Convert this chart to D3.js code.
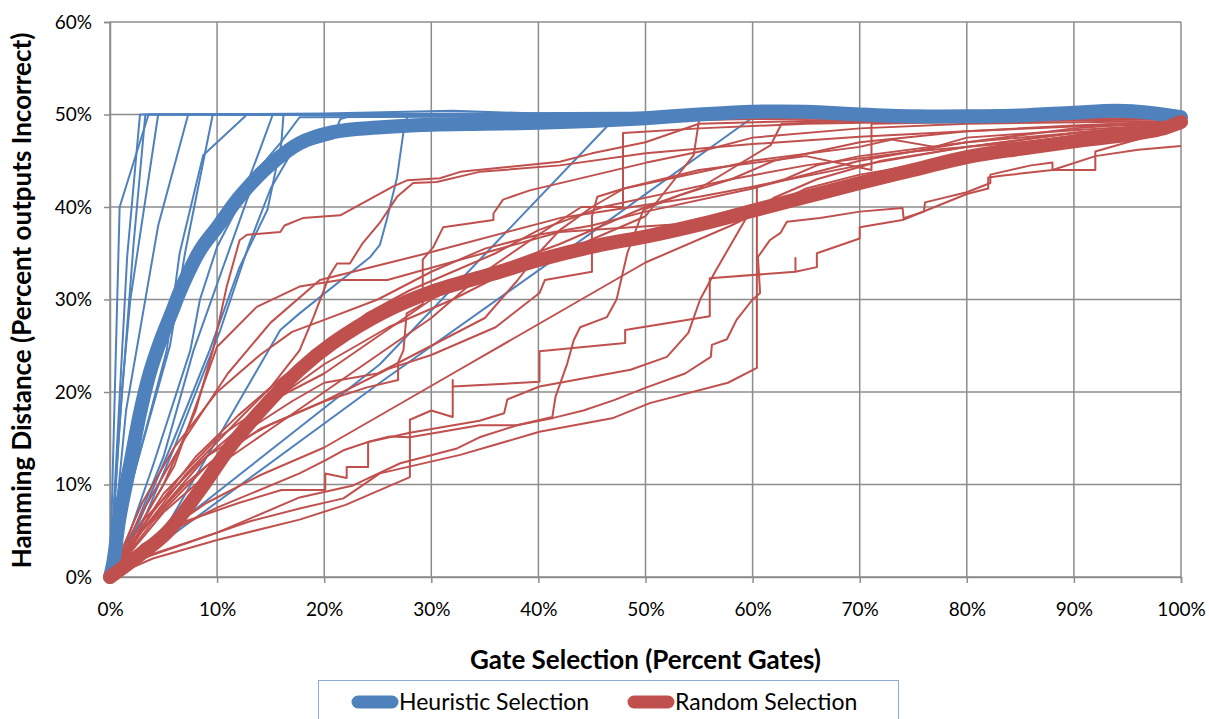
<!DOCTYPE html>
<html>
<head>
<meta charset="utf-8">
<script src="https://cdn.jsdelivr.net/npm/d3@7"></script>
<style>
  body { margin: 0; background: #fff; }
  text { font-family: Lato, "Open Sans", sans-serif; fill: #000; }
</style>
</head>
<body>
<div id="chart"></div>
<script>
const xTicks = [0, 10, 20, 30, 40, 50, 60, 70, 80, 90, 100];
const yTicks = [0, 10, 20, 30, 40, 50, 60];

// averages (smoothed in the original)
const heuristicAverage = [[0,0],[0.3,1.5],[0.9,6.5],[1.9,12.3],[2.8,17.7],[3.7,22],[4.7,25.5],[5.9,29],[6.5,30.8],[8.4,35.3],[10,37.8],[12.1,41.1],[14.7,44.3],[17.7,46.9],[20.8,48.1],[25,48.6],[30,48.9],[35,49],[40,49.1],[45,49.3],[50,49.6],[55,50],[60,50.3],[65,50.3],[70,50],[75,49.8],[80,49.8],[85,49.9],[90,50.2],[94,50.4],[97,50.2],[100,49.7]];
const randomAverage = [[0,0],[2.1,1.8],[5.3,4.8],[8.4,9.4],[11.5,14.5],[14.7,18.8],[17.7,22.4],[20.8,25.3],[25.5,28.6],[30.2,30.9],[36.4,33],[40.1,34.3],[45.8,35.9],[50,36.8],[55,38.1],[60,39.6],[65,41.1],[70,42.6],[75,44],[80,45.4],[85,46.3],[90,47.1],[95,47.8],[98,48.4],[100,49.2]];

// individual runs
const heuristicRuns = [
  [[0,0],[0.9,40],[3.6,50],[20,50.1],[32,50.4],[40,50.1],[100,50]],
  [[0,0],[1.6,34.6],[2.8,50],[100,50]],
  [[0,0],[0.8,15],[2.2,36],[3.3,50],[100,50]],
  [[0,0],[1.1,20],[1.9,30],[4.5,50],[100,50]],
  [[0,0],[1.5,18],[4.5,38],[7.3,50],[100,50]],
  [[0,0],[2.2,11],[5.6,25],[7,35],[8.9,46],[9.6,50],[100,50]],
  [[0,0],[2,10],[5.3,24.5],[6.5,35],[8.7,45.6],[12.8,50],[100,50]],
  [[0,0],[1,2],[4,12],[7.5,24.5],[8.4,30],[10,35.7],[12.1,40.4],[14,46.2],[15.2,50],[48,50.2],[100,50]],
  [[0,0],[2,4],[6,15],[9.3,24.5],[12.1,33.5],[14.7,39.7],[16,46.9],[16.2,50],[100,50]],
  [[0,0],[1.5,3],[5,13],[7.8,24.5],[12.8,40.8],[14,44.3],[15.9,46.9],[17.7,49.7],[100,50]],
  [[0,0],[2,3],[6,14],[10.3,26.7],[13,36],[15,42],[17.1,46.2],[20.8,47.4],[21.5,49.5],[23,50],[100,50]],
  [[0,0],[2,1.5],[4.4,3.7],[15.9,26.7],[17.7,28.5],[24.3,34.6],[25.2,35.9],[25.9,38.9],[26.8,43.2],[27.4,48.1],[27.8,50],[100,50]],
  [[0,0],[2,1.5],[3.8,3.5],[25.2,23],[46.4,48.7],[47.5,50],[100,50]],
  [[0,0],[2,1],[4,3],[25.2,21],[45.8,37.9],[59.9,49.6],[61,50],[100,50]]
];

const randomRuns = [
  [[0,0],[2,4],[5,10],[8,18],[9.6,24.5],[10.9,31.4],[12.1,36.4],[12.8,37],[15.9,37.3],[16.3,38],[18,38.8],[21.5,39.1],[26.4,42.2],[27.8,42.9],[30.8,43.1],[32.7,43.8],[42,44.9],[45,45.8],[50,47],[55,49],[65,49.3],[80,49.4],[100,49.5]],
  [[0,0],[3,5],[7,11],[12,17],[15,20.5],[17.7,24.5],[19,28.1],[20.5,32.6],[21.2,33.9],[22.4,33.9],[23.6,36.1],[25.2,38.3],[26.8,41.1],[28.3,42.6],[30.5,42.7],[34.5,43.8],[42,44.5],[50,45.8],[60,46.8],[70,47.6],[80,48.2],[90,48.7],[100,49]],
  [[0,0],[3,7],[7,15],[11,22],[15,27.5],[19.6,32.1],[29.6,35],[42,38.8],[55,41.1],[60,42.2],[70,44.5],[80,46.5],[90,48],[100,49]],
  [[0,0],[3,6],[6,12],[10,24.9],[13.7,29.2],[17.7,31.4],[21.5,32.1],[25.9,32.1],[42,37.3],[55.1,38.3],[60,40],[70,43],[80,45.5],[90,47.2],[100,48.6]],
  [[0,0],[3,2],[8,4],[13,6],[17.7,7.4],[21.8,8.5],[25.2,11.2],[32.7,13.2],[40.1,15.7],[47,17.2],[50.4,18.8],[57.7,21],[60.4,22.6],[60.4,42.2],[63,43],[66,44.5],[70,45.5],[80,47],[90,48],[100,49]],
  [[0,0],[3,5],[7,10],[11,14],[15,16.5],[20,19],[24,20.5],[26.9,21.3],[26.9,23.2],[27.4,24.5],[27.7,28.5],[29.2,29.5],[29.2,34.3],[30.2,35.7],[31.1,37.8],[35.8,38.6],[35.8,39.3],[36.7,40.8],[39.2,41.8],[50.1,44.8],[55.1,46],[60,47.5],[70,48.5],[80,49],[100,49.3]],
  [[0,0],[3,3.5],[7,6],[12,8],[16,9.4],[20.1,9.4],[20.1,11.2],[22.1,10.7],[22.1,11.9],[24.1,11.9],[24.1,14.6],[26.1,15.2],[28,15.1],[28,17],[30,18],[32,17.3],[32,21.3],[32,20.6],[40.1,21.1],[40.1,24.4],[48.1,25.3],[48.1,26.7],[56,28.2],[56,32.3],[64,33],[64,34.5],[64,33],[66,33.5],[66,35],[70,36.6],[70,37.8],[74,38.6],[80,41.4],[82,42],[82,43.2],[83.4,43.4],[88,44],[92,45.5],[96,46.2],[100,46.6]],
  [[0,0],[4,2.5],[10,4.8],[17.7,8.6],[22.7,9.9],[27.1,12.3],[32.4,13.9],[34.5,15.1],[38,16.4],[41.4,17.2],[44.2,18],[47,19.1],[50.1,20.5],[53.7,22],[56.1,23.8],[56.2,25.1],[57.6,25.7],[58.5,27.8],[60,30],[60.7,30.7],[60.5,34.6],[61.6,36.4],[62.6,37.2],[63.2,38.4],[66.3,38.8],[70,39.5],[74,39.9],[74.1,38.8],[76,39.5],[76.1,40.5],[80,41.6],[82.2,42.6],[82.2,43.5],[86,44.5],[88,44.8],[88,44],[92,44],[92,46],[95,47],[100,48.6]],
  [[0,0],[4,2],[10,4],[17.7,6.2],[22,7.8],[28,10.8],[28,15.1],[34.5,16.4],[38,16.4],[41.3,17.3],[41.6,19.5],[42.7,23.1],[43.3,25.6],[43.9,27],[46.4,28.1],[47.3,30],[48.3,35],[49.8,39.7],[53,41.2],[58,43],[62,45],[70,47],[80,48.2],[90,48.8],[100,49.3]],
  [[0,0],[4,4],[10,7.5],[17.7,11.2],[20.1,12.6],[21.8,13.7],[24.1,14.6],[28,15.6],[34.5,16.9],[36.8,17.7],[37.1,19.2],[40.1,20.6],[48.6,22.4],[52,23.8],[54,26.4],[55.1,30],[56.5,33],[58,36],[59.5,39],[62,41],[66,43],[72,45],[80,46.5],[90,48],[100,49]],
  [[0,0],[3,8],[6,14],[10,20],[14,24],[17,26.5],[20,27.8],[25,30],[30,33],[35,35.5],[40,37],[45,38],[50,39.5],[60,42],[70,45],[80,47],[90,48.5],[100,49.3]],
  [[0,0],[4,7],[8,13],[12,17.5],[16,21.5],[20,25],[24,28.5],[28,31],[32,33],[36,35],[40,37.5],[46,40],[52,41.5],[58,43],[65,44.5],[75,46],[85,47],[95,48],[100,49.2]],
  [[0,0],[3,5],[6,9],[9,13],[13,16],[17,19],[20,21],[25,22],[30,25],[35,28],[38,32],[40,35],[42,37.5],[45,40],[48,42],[55,44],[65,45.5],[71.1,44],[71.1,49],[80,49.2],[100,49.5]],
  [[0,0],[4,6],[9,12],[14,16],[20,19],[26,22.5],[30,24],[36,27],[40.1,30.7],[40.6,32.1],[45,33],[45,39],[45.5,41.1],[48,42],[52,43],[60,45],[70,46.5],[73,47.3],[77,46.5],[80,47.5],[90,48.3],[100,49]],
  [[0,0],[5,7],[10,12],[15,16],[20,20],[25,24],[30,28],[35,33],[40,37],[44,40],[47.9,40],[47.9,48],[55,48.5],[65,49],[80,49.3],[100,49.5]],
  [[0,0],[3,6],[8,12],[14,18],[20,23],[26,27],[32,30],[38,33.5],[44,36],[50,39],[54.5,45.6],[55,49.4],[60,49.5],[100,49.6]],
  [[0,0],[5,9],[10,15],[15,19],[20,22],[25,26],[30,30],[35,33],[42,36],[50,40],[55,42],[61.7,46.7],[62.7,49],[70,49.3],[100,49.6]],
  [[0,0],[4,4],[9,8],[14,11],[20,14],[26,18],[32,22],[38,26],[44,30],[50,34],[58,38],[65,42],[70,43.5],[75,44.5],[80,45],[90,47],[100,48.8]]
];

const seriesNames = ["Heuristic Selection", "Random Selection"];
const seriesColors = ["#4F81BD", "#C0504D"];

const width = 1209;
const height = 719;
const margin = { top: 22, right: 28, bottom: 142, left: 110 };

const svg = d3.select("#chart").append("svg")
  .attr("width", width)
  .attr("height", height);

const x = d3.scaleLinear()
  .domain([0, 100])
  .range([margin.left, width - margin.right]);

const y = d3.scaleLinear()
  .domain([0, 60])
  .range([height - margin.bottom, margin.top]);

const gridColor = "#8c8c8c";

// gridlines
svg.append("g")
  .selectAll("line")
  .data(xTicks)
  .join("line")
  .attr("x1", d => x(d)).attr("x2", d => x(d))
  .attr("y1", y(0)).attr("y2", y(60))
  .attr("stroke", gridColor)
  .attr("stroke-width", 1.5);

svg.append("g")
  .selectAll("line")
  .data(yTicks)
  .join("line")
  .attr("x1", x(0)).attr("x2", x(100))
  .attr("y1", d => y(d)).attr("y2", d => y(d))
  .attr("stroke", gridColor)
  .attr("stroke-width", 1.5);

// axes
const xAxis = svg.append("g")
  .attr("transform", `translate(0,${y(0)})`)
  .call(d3.axisBottom(x).tickValues(xTicks).tickSize(6).tickPadding(20).tickFormat(d => d + "%"));

const yAxis = svg.append("g")
  .attr("transform", `translate(${x(0)},0)`)
  .call(d3.axisLeft(y).tickValues(yTicks).tickSize(6).tickPadding(12).tickFormat(d => d + "%"));

[xAxis, yAxis].forEach(g => {
  g.select(".domain").attr("stroke", gridColor).attr("stroke-width", 1.5);
  g.selectAll(".tick line").attr("stroke", gridColor).attr("stroke-width", 1.5);
  g.selectAll(".tick text").style("font-size", "19px").attr("fill", "#000");
});

// lines
const line = d3.line()
  .x(d => x(d[0]))
  .y(d => y(d[1]));

const smooth = d3.line()
  .x(d => x(d[0]))
  .y(d => y(d[1]))
  .curve(d3.curveCatmullRom.alpha(0.5));

svg.append("g")
  .selectAll("path")
  .data(heuristicRuns)
  .join("path")
  .attr("fill", "none")
  .attr("stroke", seriesColors[0])
  .attr("stroke-width", 2)
  .attr("stroke-linejoin", "round")
  .attr("d", line);

svg.append("g")
  .selectAll("path")
  .data(randomRuns)
  .join("path")
  .attr("fill", "none")
  .attr("stroke", seriesColors[1])
  .attr("stroke-width", 2)
  .attr("stroke-linejoin", "round")
  .attr("d", line);

svg.append("path")
  .datum(heuristicAverage)
  .attr("fill", "none")
  .attr("stroke", seriesColors[0])
  .attr("stroke-width", 14)
  .attr("stroke-linecap", "round")
  .attr("d", smooth);

svg.append("path")
  .datum(randomAverage)
  .attr("fill", "none")
  .attr("stroke", seriesColors[1])
  .attr("stroke-width", 14)
  .attr("stroke-linecap", "round")
  .attr("d", smooth);

// axis titles
svg.append("text")
  .attr("x", x(50))
  .attr("y", 669)
  .attr("text-anchor", "middle")
  .style("font-size", "26px")
  .style("font-weight", "bold")
  .text("Gate Selection (Percent Gates)");

svg.append("text")
  .attr("transform", `translate(31,${(y(0) + y(60)) / 2 + 1}) rotate(-90)`)
  .attr("text-anchor", "middle")
  .style("font-size", "26px")
  .style("font-weight", "bold")
  .text("Hamming Distance (Percent outputs Incorrect)");

// legend
const legend = svg.append("g");

legend.append("rect")
  .attr("x", 318.5)
  .attr("y", 680.5)
  .attr("width", 580)
  .attr("height", 50)
  .attr("fill", "#fff")
  .attr("stroke", "#8eaadb")
  .attr("stroke-width", 1);

const legendX = [358, 634];
seriesNames.forEach((name, i) => {
  const g = legend.append("g")
    .attr("transform", `translate(${legendX[i]},702)`);

  g.append("line")
    .attr("x1", 0).attr("x2", 34)
    .attr("stroke", seriesColors[i])
    .attr("stroke-width", 13)
    .attr("stroke-linecap", "round");

  g.append("text")
    .attr("x", 41)
    .attr("y", 8)
    .style("font-size", "23px")
    .text(name);
});
</script>
</body>
</html>
